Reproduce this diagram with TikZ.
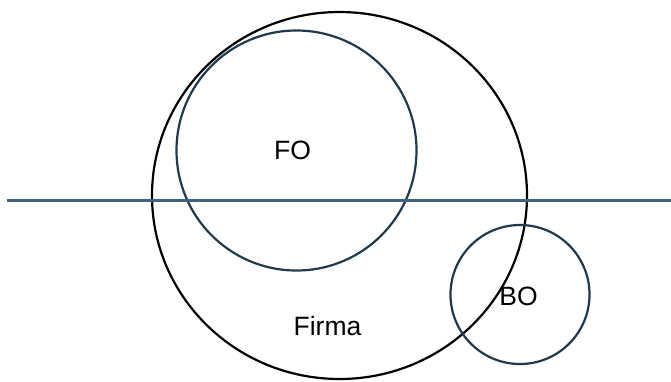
\documentclass[tikz,border=0pt]{standalone}
\usepackage{fontspec}
\setmainfont{Liberation Sans}
\usepackage{xcolor}
\usepackage{tikz}
\usetikzlibrary{positioning}

\definecolor{ringblue}{HTML}{1F3A4D}
\definecolor{lineblue}{HTML}{3D6285}

\begin{document}
\begin{tikzpicture}[x=1pt, y=-1pt,
    ring/.style={line width=2.2pt, draw=ringblue},
    lbl/.style={font=\fontsize{26.5}{31}\selectfont, inner sep=0pt}]
  \useasboundingbox (0,0) rectangle (671,381);
  % Firma (big circle)
  \draw[line width=2.2pt, black] (339.5,195.5) ellipse [x radius=187.5, y radius=183.5];
  % FO and BO
  \draw[ring] (296.5,150.5) circle (120);
  \draw[ring] (520,294.5) circle (69.5);
  % horizontal line
  \draw[line width=2.2pt, lineblue] (7,200.5) -- (671,200.5);
  % labels
  \node[lbl] (fo) at (292.5,150) {FO};
  \node[lbl] (bo) at (518.5,296) {BO};
  \node[lbl] (firma) at (327.5,326) {Firma};
\end{tikzpicture}
\end{document}
